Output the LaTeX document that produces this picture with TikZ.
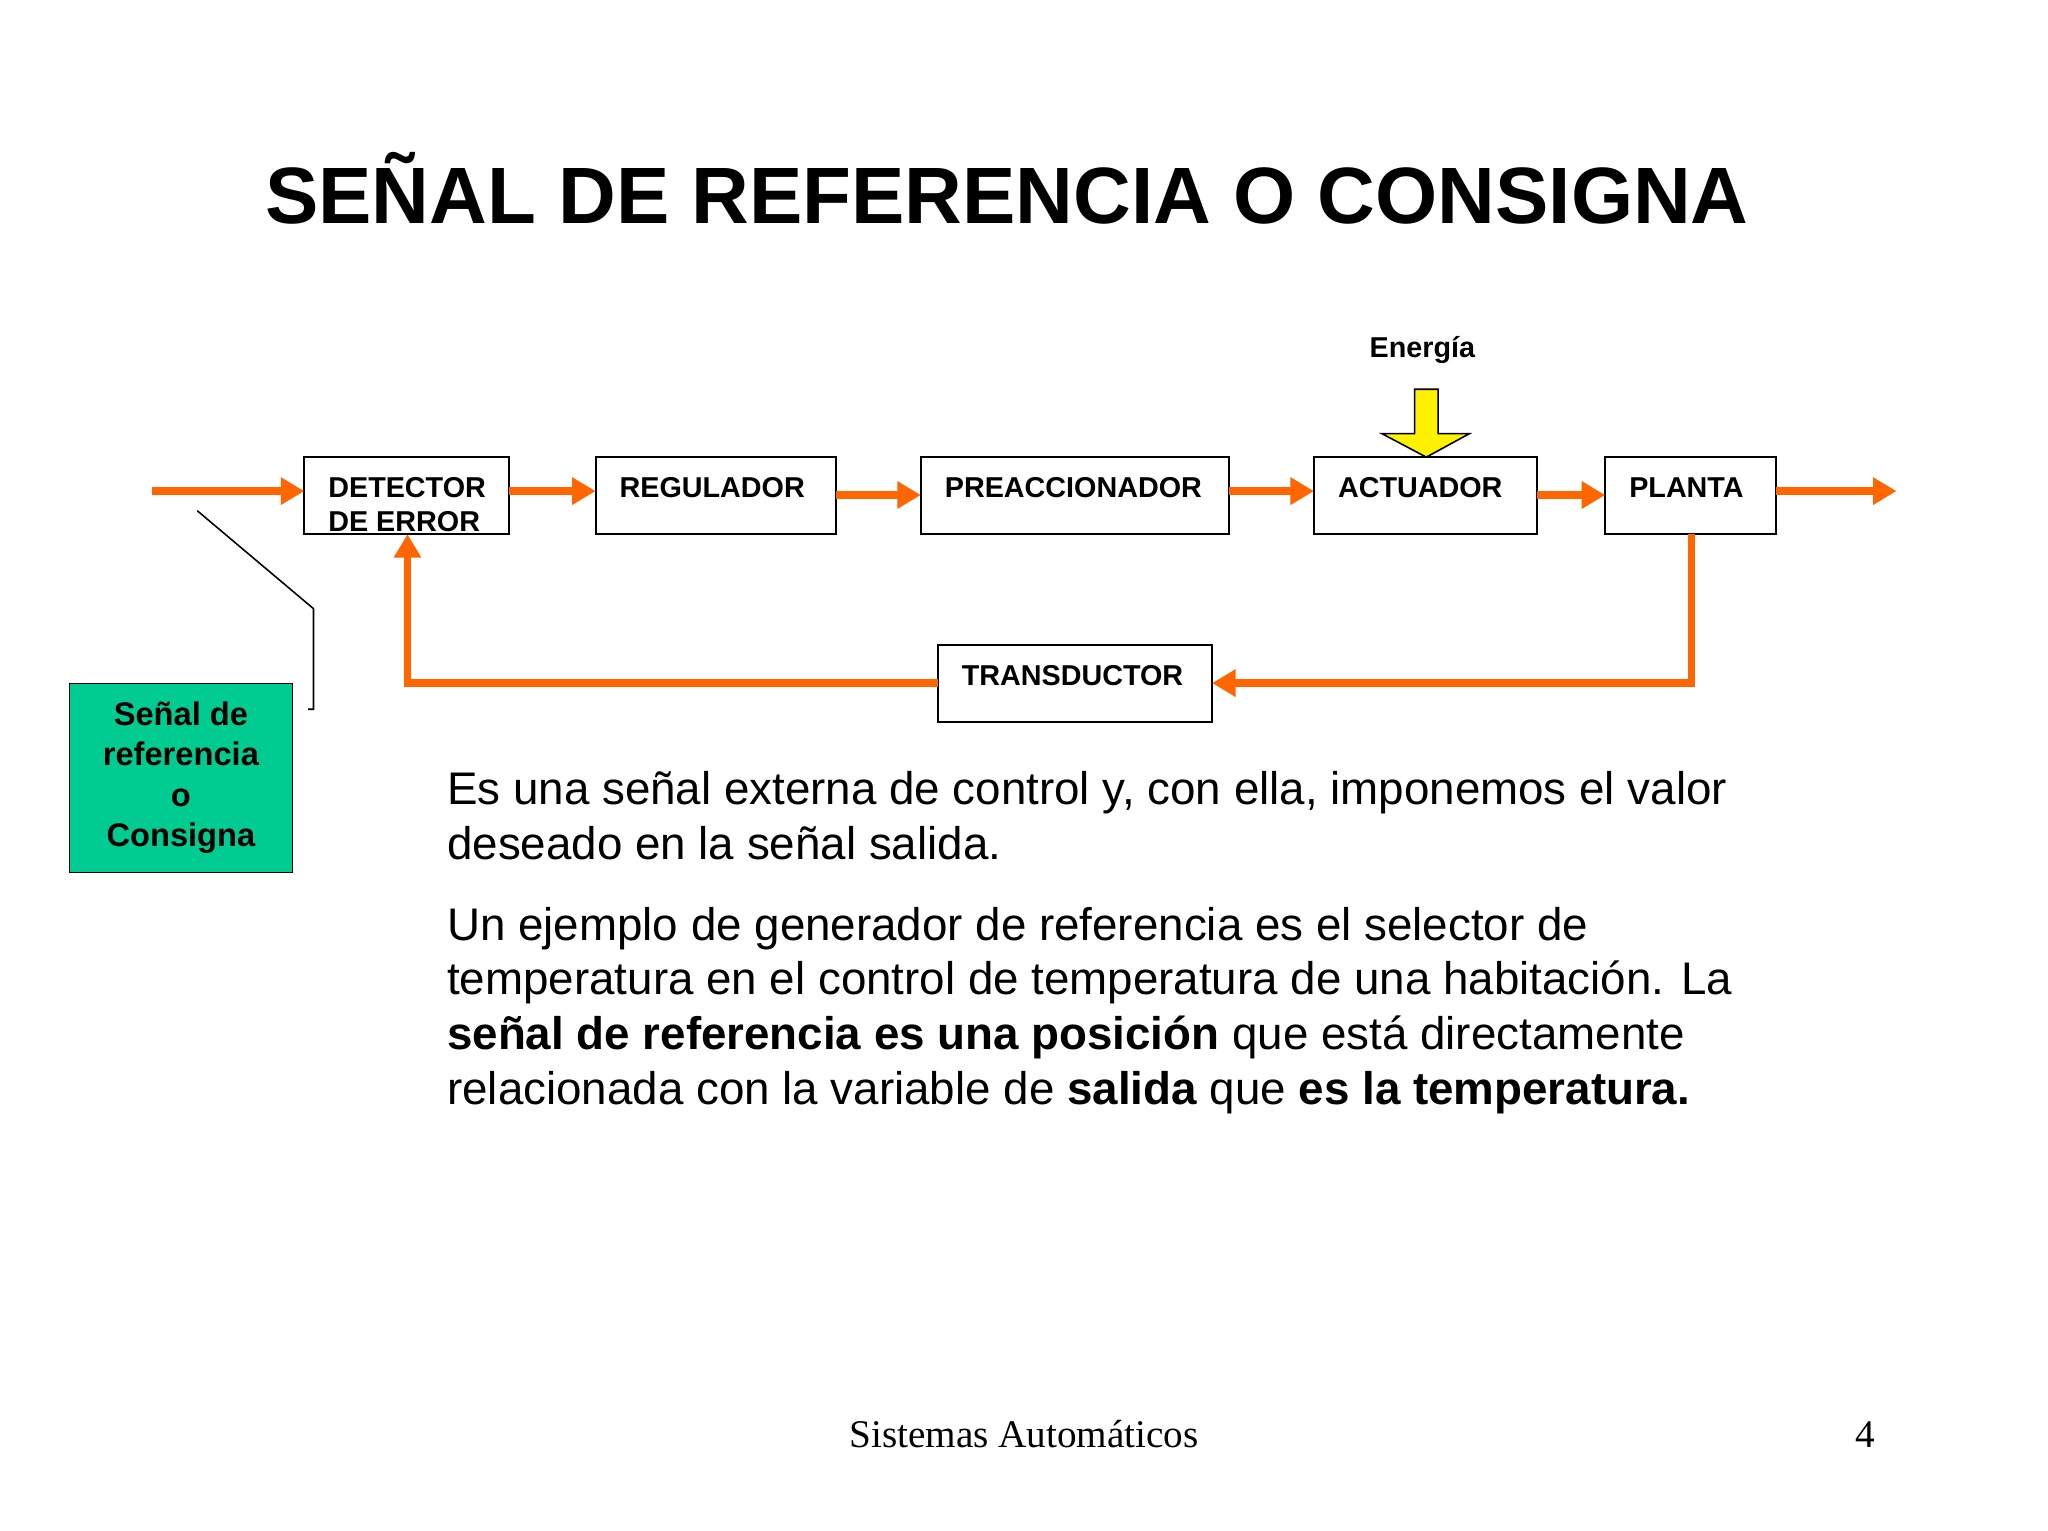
\documentclass[tikz,border=0pt]{standalone}
\usepackage{fontspec}
\setmainfont{Liberation Sans}
\newfontfamily\footfont{Liberation Serif}
\usetikzlibrary{arrows.meta}
\definecolor{org}{RGB}{255,102,0}
\definecolor{grn}{RGB}{0,204,145}
\begin{document}
\begin{tikzpicture}[x=0.5pt,y=-0.5pt,
  blk/.style={draw,line width=0.8pt,fill=white},
  lbl/.style={anchor=north west,font=\fontsize{11}{13}\selectfont\bfseries,align=left,inner sep=0pt},
  sig/.style={org,line width=3pt,-{Triangle[length=9pt,width=10pt]}},
  txt/.style={anchor=north west,align=left,inner sep=0pt,font=\fontsize{17.5}{21}\selectfont}]
\useasboundingbox (0,0) rectangle (1568,1172);
\node[anchor=center,font=\fontsize{30.6}{36}\selectfont\bfseries] (title) at (771,144) {SEÑAL DE REFERENCIA O CONSIGNA};
\draw[blk] (233,350) rectangle (390,409);
\node[lbl] (t1) at (251,365) {DETECTOR\\DE ERROR};
\draw[blk] (456,350) rectangle (640,409); \node[lbl] (t2) at (474,365) {REGULADOR};
\draw[blk] (705,350) rectangle (941,409); \node[lbl] (t3) at (723,365) {PREACCIONADOR};
\draw[blk] (1006,350) rectangle (1177,409); \node[lbl] (t4) at (1024,365) {ACTUADOR};
\draw[blk] (1229,350) rectangle (1360,409); \node[lbl] (t5) at (1247,365) {PLANTA};
\draw[blk] (718,494) rectangle (928,553); \node[lbl] (t6) at (736,509) {TRANSDUCTOR};
\draw[sig] (116,376) -- (233,376);
\draw[sig] (390,376) -- (456,376);
\draw[sig] (640,379) -- (705,379);
\draw[sig] (941,376) -- (1006,376);
\draw[sig] (1177,379) -- (1229,379);
\draw[sig] (1360,376) -- (1452,376);
\draw[sig] (1295,409) -- (1295,523) -- (928,523);
\draw[sig] (718,523) -- (312,523) -- (312,409);
\node[font=\fontsize{11}{13}\selectfont\bfseries] (en) at (1089,268) {Energía};
\draw[fill=yellow,line width=0.6pt] (1083,298) -- (1101,298) -- (1101,332) -- (1125,332) -- (1092,350) -- (1058,332) -- (1083,332) -- cycle;
\draw[line width=0.6pt] (151,391) -- (240,466) -- (240,543) -- (236,543);
\node[draw,fill=grn,minimum width=85.5pt,minimum height=72.5pt,inner sep=0pt,align=center,font=\fontsize{12.5}{15.5}\selectfont\bfseries] (sr) at (138.5,595.5) {Señal de\\referencia\\o\\Consigna};
\node[txt] (p1) at (342,590) {Es una señal externa de control y, con ella, imponemos el valor\\deseado en la señal salida.};
\node[txt] (p2) at (342,694) {Un ejemplo de generador de referencia es el selector de\\temperatura en el control de temperatura de una habitación. La\\\textbf{señal de referencia es una posición} que está directamente\\relacionada con la variable de \textbf{salida} que \textbf{es la temperatura.}};
\node[font=\footfont\fontsize{15}{18}\selectfont] (f1) at (784,1098) {Sistemas Automáticos};
\node[font=\footfont\fontsize{15}{18}\selectfont] (f2) at (1428,1098) {4};
\end{tikzpicture}
\end{document}
